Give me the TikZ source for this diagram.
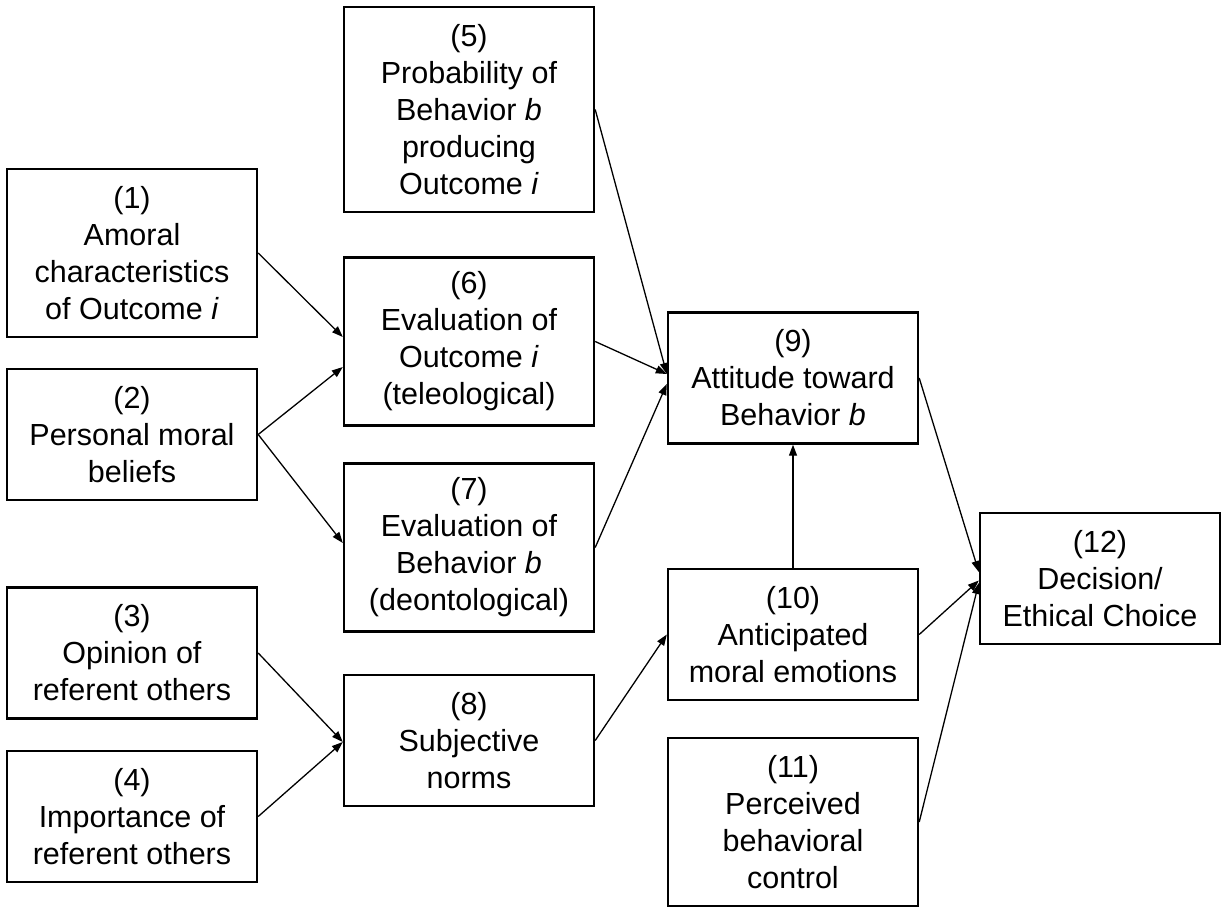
\documentclass[tikz,border=0pt]{standalone}
\usepackage{fontspec}
\setmainfont{Liberation Sans}
\usetikzlibrary{arrows.meta}
\begin{document}
\begin{tikzpicture}[x=1pt,y=1pt,
  box/.style={draw, line width=2.4pt, rectangle, inner sep=0pt, align=center,
    minimum width=250pt, font=\fontsize{30.5pt}{37pt}\selectfont},
  h3/.style={minimum height=131pt},
  h4/.style={minimum height=168pt},
  arr/.style={line width=1.3pt, -{Triangle[length=11pt,width=8pt]}}]
\useasboundingbox (0,0) rectangle (1225,-909);
\node[box,h4] (n1) at (132,-253) {(1)\\Amoral\\characteristics\\of Outcome \textit{i}};
\node[box,h3] (n2) at (132,-434.5) {(2)\\Personal moral\\beliefs};
\node[box,h3] (n3) at (132,-653) {(3)\\Opinion of\\referent others};
\node[box,h3] (n4) at (132,-816.5) {(4)\\Importance of\\referent others};
\node[box,minimum height=205pt] (n5) at (469,-109.5) {(5)\\Probability of\\Behavior \textit{b}\\producing\\Outcome \textit{i}};
\node[box,h4] (n6) at (469,-341.5) {(6)\\Evaluation of\\Outcome \textit{i}\\(teleological)};
\node[box,h4] (n7) at (469,-547.5) {(7)\\Evaluation of\\Behavior \textit{b}\\(deontological)};
\node[box,h3] (n8) at (469,-740.5) {(8)\\Subjective\\norms};
\node[box,h3] (n9) at (793,-378) {(9)\\Attitude toward\\Behavior \textit{b}};
\node[box,h3] (n10) at (793,-634.5) {(10)\\Anticipated\\moral emotions};
\node[box,h4] (n11) at (793,-822) {(11)\\Perceived\\behavioral\\control};
\node[box,h3,minimum width=240pt] (n12) at (1100,-578.5) {(12)\\Decision/\\Ethical Choice};
\draw[arr] (n1.east) -- ([yshift=4.5pt]n6.west);
\draw[arr] (n2.east) -- ([yshift=-25.5pt]n6.west);
\draw[arr] (n2.east) -- ([yshift=4.5pt]n7.west);
\draw[arr] (n3.east) -- ([yshift=-1.5pt]n8.west);
\draw[arr] (n4.east) -- ([yshift=-1.5pt]n8.west);
\draw[arr] (n5.east) -- ([yshift=4pt]n9.west);
\draw[arr] (n6.east) -- ([yshift=4pt]n9.west);
\draw[arr] (n7.east) -- ([yshift=-6pt]n9.west);
\draw[arr] (n8.east) -- (n10.west);
\draw[arr] (n10.north) -- (n9.south);
\draw[arr] (n9.east) -- ([yshift=6.5pt]n12.west);
\draw[arr] (n10.east) -- ([yshift=-2pt]n12.west);
\draw[arr] (n11.east) -- ([yshift=-4.5pt]n12.west);
\end{tikzpicture}
\end{document}
